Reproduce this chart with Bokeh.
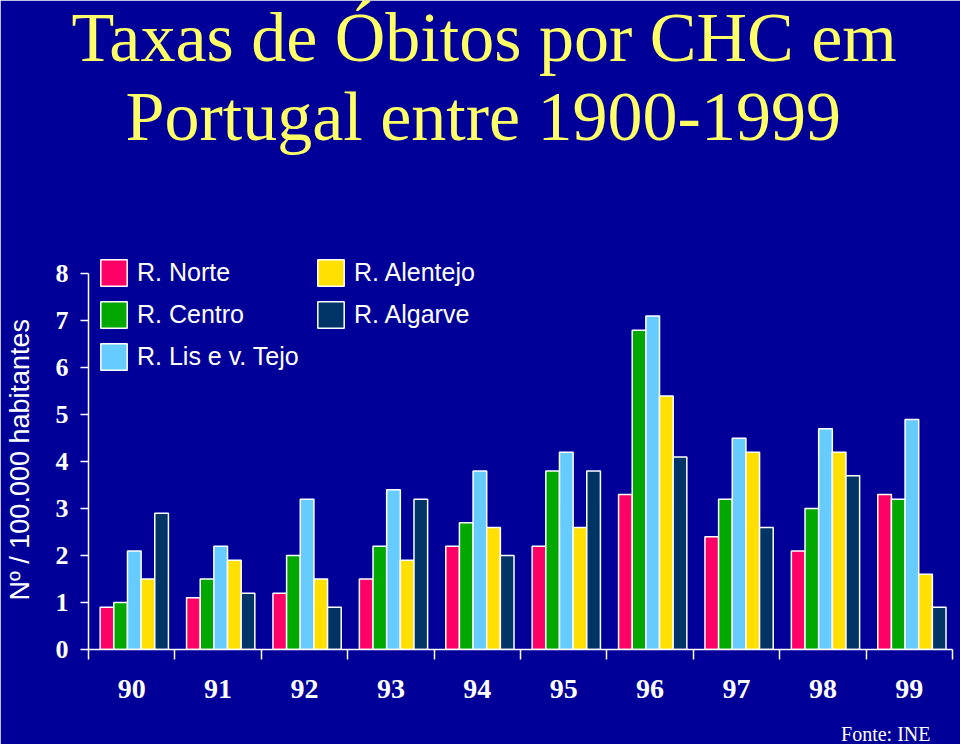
import numpy as np
from bokeh.plotting import figure
from bokeh.models import (Range1d, FixedTicker, Legend, LegendItem, ColumnDataSource, Title)
from bokeh.embed import file_html
from bokeh.resources import INLINE

# ---- data ----
years = ["90", "91", "92", "93", "94", "95", "96", "97", "98", "99"]
series_names = ["R. Norte", "R. Centro", "R. Lis e v. Tejo", "R. Alentejo", "R. Algarve"]
norte    = [0.9, 1.1, 1.2, 1.5, 2.2, 2.2, 3.3, 2.4, 2.1, 3.3]
centro   = [1.0, 1.5, 2.0, 2.2, 2.7, 3.8, 6.8, 3.2, 3.0, 3.2]
lis_tejo = [2.1, 2.2, 3.2, 3.4, 3.8, 4.2, 7.1, 4.5, 4.7, 4.9]
alentejo = [1.5, 1.9, 1.5, 1.9, 2.6, 2.6, 5.4, 4.2, 4.2, 1.6]
algarve  = [2.9, 1.2, 0.9, 3.2, 2.0, 3.8, 4.1, 2.6, 3.7, 0.9]
y_ticks = [0, 1, 2, 3, 4, 5, 6, 7, 8]

series = [norte, centro, lis_tejo, alentejo, algarve]
colors = ["#FF0066", "#00A800", "#66CCFF", "#FFE000", "#003366"]

BG = "#000099"
TITLE_COLOR = "#FFFF66"

p = figure(width=960, height=744, output_backend="svg", toolbar_location=None,
           x_range=Range1d(0, len(years)), y_range=Range1d(0, 8.56),
           min_border_left=88, min_border_right=8, min_border_top=0, min_border_bottom=0)
p.background_fill_color = BG
p.border_fill_color = BG
p.outline_line_color = BG
p.outline_line_width = 3
p.grid.visible = False

idx = np.arange(len(years))
bar_w = 0.158
group_center = 0.53
renderers = []
for k, (vals, col, name) in enumerate(zip(series, colors, series_names)):
    src = ColumnDataSource(dict(x=idx + group_center + (k - 2) * bar_w, top=vals))
    r = p.vbar(x="x", top="top", width=bar_w, bottom=0, source=src,
               fill_color=col, line_color="white", line_width=1.5)
    renderers.append(r)

legend = Legend(items=[LegendItem(label=n, renderers=[r]) for n, r in zip(series_names, renderers)],
                location="top_left", nrows=3, orientation="vertical")
legend.background_fill_alpha = 0
legend.border_line_color = None
legend.margin = 9
legend.padding = 21
legend.spacing = 9
legend.glyph_width = 33
legend.glyph_height = 33
legend.label_height = 33
legend.label_width = 168
legend.label_standoff = 7
legend.label_text_font = "Liberation Sans"
legend.label_text_font_size = "25px"
legend.label_text_color = "white"
p.add_layout(legend)

# y axis
ya = p.yaxis[0]
ya.bounds = (0, 8)
ya.ticker = FixedTicker(ticks=y_ticks)
ya.axis_line_color = "white"
ya.axis_line_width = 1.5
ya.major_tick_line_color = "white"
ya.major_tick_line_width = 1.5
ya.major_tick_out = 8
ya.major_tick_in = 0
ya.minor_tick_line_color = None
ya.major_label_text_font = "Liberation Serif"
ya.major_label_text_font_style = "bold"
ya.major_label_text_font_size = "26px"
ya.major_label_text_color = "white"
ya.major_label_standoff = 12
ya.axis_label = "Nº / 100.000 habitantes\u00a0\u00a0\u00a0"
ya.axis_label_text_font = "Liberation Sans"
ya.axis_label_text_font_style = "normal"
ya.axis_label_text_font_size = "27px"
ya.axis_label_text_color = "white"
ya.axis_label_standoff = 18

# x axis
xa = p.xaxis[0]
xa.bounds = (0, len(years))
xa.ticker = FixedTicker(ticks=list(idx + 0.5), minor_ticks=list(range(len(years) + 1)))
xa.major_label_overrides = {float(i + 0.5): y for i, y in enumerate(years)}
xa.axis_line_color = "white"
xa.axis_line_width = 1.5
xa.major_tick_line_color = None
xa.major_tick_out = 0
xa.major_tick_in = 0
xa.minor_tick_line_color = "white"
xa.minor_tick_line_width = 1.5
xa.minor_tick_out = 10
xa.minor_tick_in = 0
xa.major_label_text_font = "Liberation Serif"
xa.major_label_text_font_style = "bold"
xa.major_label_text_font_size = "28px"
xa.major_label_text_color = "white"
xa.major_label_standoff = 20

# titles (first added = nearest the frame)
spacer = Title(text=" ", text_font_size="60px", standoff=20)
line2 = Title(text="Portugal entre 1900-1999", align="left", offset=37,
              text_font="Liberation Serif", text_font_style="normal",
              text_font_size="70px", text_color=TITLE_COLOR, standoff=8)
line1 = Title(text="Taxas de Óbitos por CHC em", align="left", offset=-17,
              text_font="Liberation Serif", text_font_style="normal",
              text_font_size="70px", text_color=TITLE_COLOR, standoff=-8)
p.add_layout(spacer, "above")
p.add_layout(line2, "above")
p.add_layout(line1, "above")

bottom_spacer = Title(text=" ", text_font_size="1px", standoff=17)
note = Title(text="Fonte: INE", align="right", offset=22,
             text_font="Liberation Serif", text_font_style="normal",
             text_font_size="20px", text_color="white", standoff=0)
p.add_layout(bottom_spacer, "below")
p.add_layout(note, "below")

open("out.html", "w").write(file_html(p, INLINE))
